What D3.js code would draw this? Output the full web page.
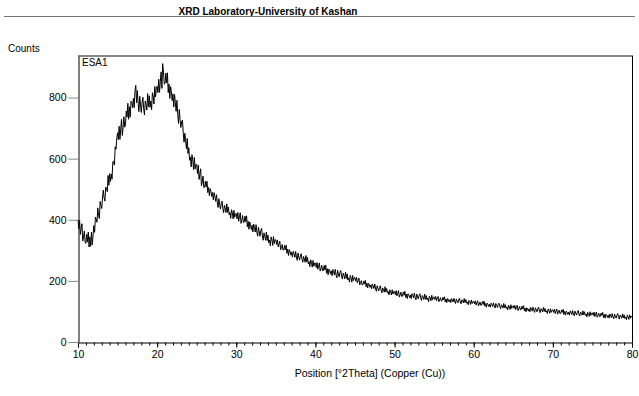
<!DOCTYPE html>
<html>
<head>
<meta charset="utf-8">
<script src="https://cdn.jsdelivr.net/npm/d3@7"></script>
<style>
  html, body { margin: 0; padding: 0; background: #fff; }
  svg { display: block; font-family: "Liberation Sans", Arial, sans-serif; }
</style>
</head>
<body>
<svg id="chart" width="639" height="396"></svg>
<script>
// ---- data ----
const title = "XRD Laboratory-University of Kashan";
const sampleName = "ESA1";
const xLabel = "Position [°2Theta] (Copper (Cu))";
const yLabel = "Counts";
const xStart = 10.0;     // first 2theta value
const xStep = 0.1;       // scan step used for the reading
const xTicks = [10, 20, 30, 40, 50, 60, 70, 80];
const yTicks = [0, 200, 400, 600, 800];
const counts = [
  400,371,399,352,371,387,331,344,363,325,
  323,353,327,360,311,344,313,360,318,347,
  381,359,409,402,392,439,414,404,460,447,
  437,474,497,471,461,507,503,492,545,513,
  551,525,550,533,590,591,579,639,631,667,
  685,662,706,663,697,729,676,703,737,703,
  711,756,736,781,729,770,736,788,784,767,
  797,767,821,840,783,823,780,754,804,776,
  751,785,801,763,743,789,777,759,813,770,
  806,768,788,760,816,806,779,836,802,830,
  837,816,860,817,852,884,830,911,883,844,
  846,880,848,881,816,844,797,836,819,790,
  812,769,810,783,755,791,745,715,761,728,
  702,722,726,683,654,683,660,632,666,617,
  636,595,605,573,613,596,564,604,566,582,
  580,551,579,532,551,567,511,524,543,505,
  507,526,507,526,489,506,479,502,493,476,
  489,465,489,476,460,482,456,440,469,451,
  435,453,461,437,423,447,438,424,452,424,
  442,416,424,405,433,423,403,431,408,420,
  420,403,424,395,410,423,388,399,414,391,
  392,412,394,413,377,395,369,393,384,368,
  382,360,386,374,360,384,360,346,376,360,
  346,364,372,347,333,357,347,333,360,332,
  350,325,334,315,344,335,316,345,322,335,
  334,319,334,311,321,330,302,309,319,301,
  301,316,302,317,290,304,283,302,296,284,
  294,278,297,289,277,296,278,267,291,278,
  268,282,289,271,261,280,272,261,283,262,
  277,256,263,247,269,261,245,267,248,258,
  258,244,260,238,249,259,232,240,251,233,
  234,250,236,252,225,240,220,239,234,222,
  233,217,237,230,219,238,220,210,235,223,
  213,227,234,216,206,225,218,207,229,208,
  223,203,210,196,218,211,196,218,201,211,
  210,199,212,193,201,209,187,194,201,187,
  187,199,190,202,181,193,177,192,188,179,
  187,174,190,183,175,190,174,166,184,175,
  167,178,184,170,161,177,171,163,181,164,
  175,160,165,154,171,165,154,171,157,165,
  165,155,168,151,159,168,147,154,163,149,
  150,163,153,166,146,157,142,158,153,145,
  154,142,158,152,144,160,146,138,157,148,
  141,153,158,145,136,152,147,139,157,140,
  152,138,144,132,150,145,135,153,138,147,
  147,139,149,135,143,149,132,138,145,134,
  135,146,138,148,131,141,129,142,138,131,
  139,129,142,137,131,143,132,126,141,134,
  128,138,143,131,125,138,134,128,142,129,
  139,127,131,122,136,132,123,137,126,132,
  133,125,135,121,129,135,118,124,131,120,
  121,132,123,134,117,126,114,127,123,116,
  124,114,127,122,116,128,117,111,126,119,
  113,123,127,116,109,122,118,111,126,112,
  122,110,115,105,120,116,107,122,110,117,
  118,110,120,106,114,120,103,109,116,105,
  106,117,108,119,102,111,99,112,108,101,
  109,99,113,107,101,114,103,97,112,105,
  99,109,114,102,96,109,105,99,113,100,
  110,98,102,93,108,103,94,109,97,104,
  105,97,108,93,101,108,91,97,104,93,
  94,105,97,107,90,100,88,101,97,90,
  98,88,102,96,90,103,92,86,101,94,
  88,98,103,91,85,98,94,88,102,89,
  99,87,92,82,97,93,84,99,87,94,
  95,87,98,83,91,98,81,87,94,83,
  84,95,87,97,80,90,78,91,87,80,
  88,78,92,86,80,93,82,76,91,84,
  78,88,93,81,75,88,84,78,92,79,
  89,77,82,73,88,83,74,89,78,85,
  81
];

// ---- layout ----
const svg = d3.select("#chart");
const mLeft = 78, mRight = 632, mTop = 56, mBottom = 342;

const x = d3.scaleLinear().domain([10, 80]).range([mLeft, mRight]);
const y = d3.scaleLinear().domain([0, 936]).range([mBottom, mTop]);

const points = counts.map((c, i) => [xStart + i * xStep, c]);

// title
svg.append("text")
  .attr("x", 268).attr("y", 15)
  .attr("text-anchor", "middle")
  .attr("font-size", "10px").attr("font-weight", "bold")
  .text(title);
svg.append("line")
  .attr("x1", 4).attr("x2", 635).attr("y1", 16.5).attr("y2", 16.5)
  .attr("stroke", "#777").attr("stroke-width", 1);

// y label
svg.append("text")
  .attr("x", 8).attr("y", 52)
  .attr("font-size", "10px")
  .text(yLabel);

// data line
const line = d3.line().x(d => x(d[0])).y(d => y(d[1]));
svg.append("path")
  .datum(points)
  .attr("fill", "none")
  .attr("stroke", "#000")
  .attr("stroke-width", 1)
  .attr("stroke-linejoin", "bevel")
  .attr("d", line);

// frame: top gray, right black
svg.append("line")
  .attr("x1", mLeft).attr("x2", mRight + 1).attr("y1", mTop).attr("y2", mTop)
  .attr("stroke", "#888").attr("stroke-width", 2);
svg.append("line")
  .attr("x1", mRight + 0.5).attr("x2", mRight + 0.5).attr("y1", mTop).attr("y2", mBottom)
  .attr("stroke", "#000").attr("stroke-width", 1);

// x axis
const xMinor = d3.range(10, 81, 1);
const xAxisG = svg.append("g").attr("transform", `translate(0,${mBottom + 0.5})`);
xAxisG.append("g")
  .call(d3.axisBottom(x).tickValues(xMinor).tickSize(3).tickFormat(""))
  .call(g => g.select(".domain").remove());
xAxisG.append("g")
  .call(d3.axisBottom(x).tickValues(xTicks).tickSize(5).tickPadding(3).tickFormat(d3.format("d")))
  .call(g => g.select(".domain").attr("stroke", "#000"))
  .call(g => g.selectAll("text").attr("font-size", "10.5px").attr("fill", "#000").attr("font-family", "Liberation Sans, Arial, sans-serif"));
xAxisG.selectAll("line").attr("stroke", "#000");

// y axis
const yAxisG = svg.append("g").attr("transform", `translate(${mLeft + 0.5},0)`);
yAxisG.call(d3.axisLeft(y).tickValues(yTicks).tickSize(10).tickPadding(2).tickSizeOuter(0).tickFormat(d3.format("d")))
  .call(g => g.select(".domain").attr("stroke", "#000"))
  .call(g => g.selectAll("text").attr("font-size", "10.5px").attr("fill", "#000").attr("font-family", "Liberation Sans, Arial, sans-serif"))
  .call(g => g.selectAll(".tick line").attr("stroke", "#888"));

// x label
svg.append("text")
  .attr("x", 370).attr("y", 377)
  .attr("text-anchor", "middle")
  .attr("font-size", "10.5px")
  .text(xLabel);

// sample name
svg.append("text")
  .attr("x", 82).attr("y", 66)
  .attr("font-size", "10px")
  .text(sampleName);
</script>
</body>
</html>
